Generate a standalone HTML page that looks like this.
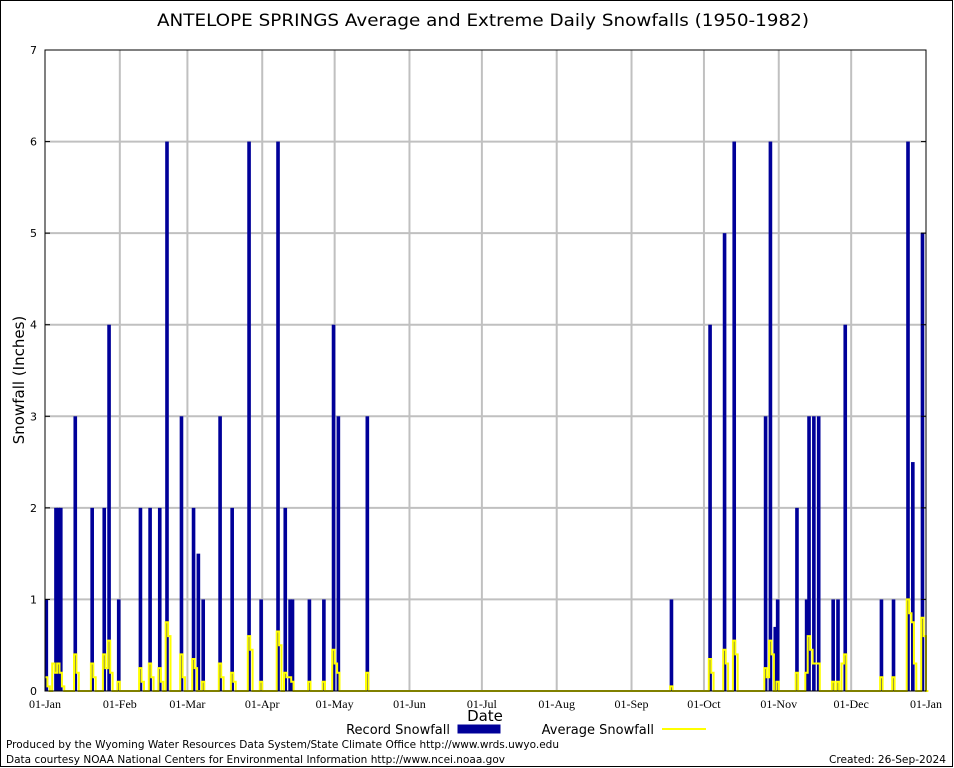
<!DOCTYPE html>
<html><head><meta charset="utf-8"><style>
html,body{margin:0;padding:0;background:#fff;}
svg{display:block;font-family:"DejaVu Sans","Liberation Sans",sans-serif;}
</style></head><body>
<svg id="chart" width="954" height="768">
<rect x="0.5" y="0.5" width="952" height="766" fill="#fff" stroke="#000" stroke-width="1"/>
<text x="483" y="26" text-anchor="middle" font-size="17" textLength="652" lengthAdjust="spacingAndGlyphs">ANTELOPE SPRINGS Average and Extreme Daily Snowfalls (1950-1982)</text>
<g id="grid"></g>
<g id="bars"></g>
<g id="avg"></g>
<g id="axes"></g>
<text x="24" y="380" text-anchor="middle" font-size="15" transform="rotate(-90 24 380)">Snowfall (Inches)</text>
<text x="485" y="721" text-anchor="middle" font-size="15">Date</text>
<g>
<text x="450" y="734" text-anchor="end" font-size="13">Record Snowfall</text>
<rect x="458" y="725" width="42" height="8" fill="#000099" stroke="#000099"/>
<text x="654" y="734" text-anchor="end" font-size="13">Average Snowfall</text>
<line x1="662" y1="729" x2="706" y2="729" stroke="#ffff00" stroke-width="2"/>
</g>
<text x="6" y="748" font-size="11" textLength="553" lengthAdjust="spacingAndGlyphs">Produced by the Wyoming Water Resources Data System/State Climate Office http://www.wrds.uwyo.edu</text>
<text x="6" y="763" font-size="11" textLength="499" lengthAdjust="spacingAndGlyphs">Data courtesy NOAA National Centers for Environmental Information http://www.ncei.noaa.gov</text>
<text x="946" y="763" text-anchor="end" font-size="11" textLength="117" lengthAdjust="spacingAndGlyphs">Created: 26-Sep-2024</text>
</svg>
<script>
const recordDays = [0,4,5,6,12,19,24,26,30,39,43,47,50,56,61,63,65,72,77,84,89,96,99,101,102,109,115,119,121,133,259,275,281,285,298,300,302,303,311,315,316,318,320,326,328,331,346,351,357,359,363];
const recordVals = [1,2,2,2,3,2,2,4,1,2,2,2,6,3,2,1.5,1,3,2,6,1,6,2,1,1,1,1,4,3,3,1,4,5,6,3,6,0.7,1,2,1,3,3,3,1,1,4,1,1,6,2.5,5];
const avgDays = [0,1,3,4,5,6,7,12,13,19,20,24,25,26,27,30,39,40,43,44,47,48,50,51,56,57,61,62,65,72,73,77,78,84,85,89,96,97,99,100,101,102,109,115,119,120,121,133,259,275,276,281,282,285,286,298,299,300,301,303,311,315,316,317,318,319,320,326,328,330,331,346,351,357,358,359,360,363,364];
const avgVals = [0.15,0.05,0.3,0.2,0.3,0.2,0.05,0.4,0.2,0.3,0.15,0.4,0.25,0.55,0.2,0.1,0.25,0.1,0.3,0.15,0.25,0.1,0.75,0.6,0.4,0.15,0.35,0.25,0.1,0.3,0.15,0.2,0.1,0.6,0.45,0.1,0.65,0.5,0.2,0.15,0.15,0.1,0.1,0.1,0.45,0.3,0.2,0.2,0.05,0.35,0.2,0.45,0.3,0.55,0.4,0.25,0.15,0.55,0.4,0.1,0.2,0.2,0.6,0.45,0.3,0.3,0.3,0.1,0.1,0.3,0.4,0.15,0.15,1.0,0.85,0.75,0.3,0.8,0.6];
const yTicks = [0,1,2,3,4,5,6,7];
const monthLabels = ["01-Jan","01-Feb","01-Mar","01-Apr","01-May","01-Jun","01-Jul","01-Aug","01-Sep","01-Oct","01-Nov","01-Dec","01-Jan"];
const monthStarts = [0,31,59,90,120,151,181,212,243,273,304,334,365];

const X0=45, X1=926, Y0=691, Y1=50, NS="http://www.w3.org/2000/svg";
const xs = d => X0 + d*(X1-X0)/365;
const ys = v => Y0 - v*(Y0-Y1)/7;
function mk(tag, attrs, parent){const e=document.createElementNS(NS,tag);for(const k in attrs)e.setAttribute(k,attrs[k]);parent.appendChild(e);return e;}
const grid=document.getElementById('grid'), bars=document.getElementById('bars'), avg=document.getElementById('avg'), axes=document.getElementById('axes');

yTicks.forEach(t=>{
  if(t>0&&t<7){const g=mk('line',{x1:X0,x2:X1,y1:ys(t),y2:ys(t),stroke:'#c0c0c0','stroke-width':2},grid);
  
  }
  const tx=mk('text',{x:X0-8,y:ys(t)+4,'text-anchor':'end','font-size':11},axes);
  tx.textContent=t;
  
  
  [[X0,X0+5],[X1-5,X1]].forEach(p=>{const l=mk('line',{x1:p[0],x2:p[1],y1:ys(t),y2:ys(t),stroke:'#000'},axes);
  
  });
});
monthStarts.forEach((d,i)=>{
  if(i>0&&i<12){const g=mk('line',{x1:xs(d),x2:xs(d),y1:Y1,y2:Y0,stroke:'#c0c0c0','stroke-width':2},grid);
  
  }
  const tx=mk('text',{x:xs(d),y:708,'text-anchor':'middle','font-size':12,'font-family':'"Liberation Serif",serif'},axes);
  tx.textContent=monthLabels[i];
  
  
});
const dw=(X1-X0)/365;
recordDays.forEach((d,i)=>{
  const r=mk('rect',{x:xs(d)-0.5,y:ys(recordVals[i]),width:dw*1.5,height:Y0-ys(recordVals[i]),fill:'#000099'},bars);
  
  
});
const full=new Array(366).fill(0);
avgDays.forEach((d,i)=>{full[d]=avgVals[i];});
let p='';
full.forEach((v,d)=>{p+=(d?'L':'M')+xs(d).toFixed(1)+' '+ys(v).toFixed(1)+' L'+xs(d+1).toFixed(1)+' '+ys(v).toFixed(1)+' ';});
const line=mk('path',{d:p,fill:'none',stroke:'#ffff00','stroke-width':2},avg);


const frame=mk('rect',{x:X0,y:Y1,width:X1-X0,height:Y0-Y1,fill:'none',stroke:'#000','stroke-width':1},axes);


</script>
</body></html>
